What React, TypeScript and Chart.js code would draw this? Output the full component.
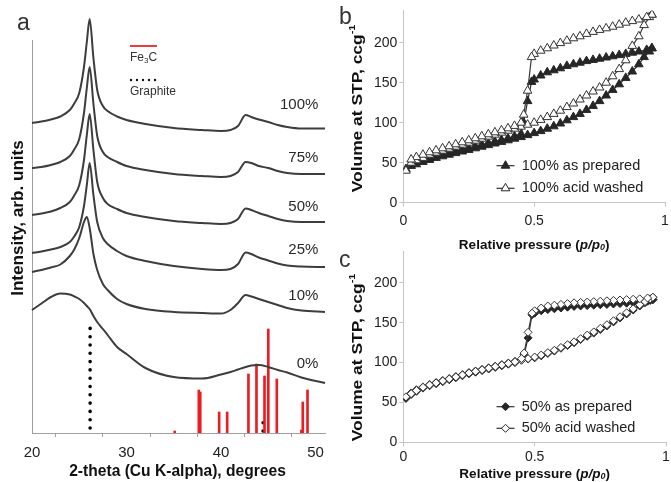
import React, { useEffect, useRef } from 'react';
import { Chart, registerables } from 'chart.js';

Chart.register(...registerables);

const FONT = '"Liberation Sans", Arial, Helvetica, sans-serif';

// ---------- Panel a: XRD patterns ----------
const twoTheta = [20, 21, 22, 23, 24, 24.5, 25, 25.5, 25.8, 26.1, 26.5, 26.9, 27.5, 28, 29, 30, 32, 35, 38, 40, 41, 41.8, 42.6, 43.2, 44, 45, 46, 47, 48.5, 51];
const xrd100 = [310, 311.5, 313.5, 316.5, 323, 330, 340, 366, 391, 414, 375, 343, 327, 322, 316.5, 313, 309, 305, 303, 302, 303, 307, 318, 316, 313.5, 311, 308, 306, 304.5, 304.5];
const xrd75 = [265, 266, 268, 271, 277, 284, 294, 320, 345, 366, 329, 297, 281, 276, 271, 267, 263, 259, 257, 256, 257, 261, 271, 270, 267, 265, 262, 260, 259, 259];
const xrd50 = [218, 219.5, 221.5, 225, 231, 238, 248, 273, 298, 319, 283, 251, 235, 229, 224, 220, 216, 212, 210, 209, 210, 214, 224.5, 223, 220, 217, 214, 212, 211, 211];
const xrd25 = [180, 181.5, 183.5, 186, 191, 197, 206, 227, 248, 270, 238, 211, 195, 189, 182, 177, 172, 167, 164, 163, 164, 169, 180.5, 179, 175.5, 172.5, 169.5, 167.5, 166.5, 166];
const xrd10 = [161, 163, 165.5, 168.5, 177, 184, 195, 211, 216, 205, 179, 163, 149, 143, 134, 129, 124, 121, 120, 119.5, 123, 130, 138, 136.5, 134, 131, 128, 125, 122.5, 121];
const xrd0 = [123, 129.5, 136, 139.5, 138.5, 136.5, 134, 130, 127, 124, 117, 111, 104, 98, 86, 79, 65, 56, 54.5, 58.5, 61, 63.5, 66, 67.5, 68, 66, 63, 60.5, 55.5, 50];
const xrdLabels = ['100%', '75%', '50%', '25%', '10%', '0%'];
const xrdLabelLevels = [328, 275, 226, 183, 137, 69];

const fe3cAngles = [35.1, 37.65, 37.8, 39.8, 40.65, 42.9, 43.75, 44.6, 45.0, 45.9, 48.5, 48.65, 49.15];
const fe3cHeights = [2, 43, 41, 21, 21, 59, 69, 57, 104, 54, 3, 31, 43];
const graphiteAngles = [26.15, 44.45];
const graphiteBottoms = [5, 2];
const graphiteTops = [105, 11];

// ---------- Panels b, c: isotherms ----------
const pAds = [0.01, 0.03, 0.05, 0.075, 0.1, 0.125, 0.15, 0.175, 0.2, 0.225, 0.25, 0.275, 0.3, 0.325, 0.35, 0.375, 0.4, 0.425, 0.45, 0.475, 0.5, 0.525, 0.55, 0.575, 0.6, 0.625, 0.65, 0.675, 0.7, 0.725, 0.75, 0.775, 0.8, 0.825, 0.85, 0.875, 0.9, 0.92, 0.94, 0.95];
const pDes = [0.95, 0.93, 0.9, 0.875, 0.85, 0.825, 0.8, 0.775, 0.75, 0.725, 0.7, 0.675, 0.65, 0.625, 0.6, 0.575, 0.55, 0.525, 0.5, 0.49, 0.475, 0.46, 0.45, 0.425, 0.4, 0.375, 0.35, 0.325, 0.3, 0.275, 0.25, 0.225, 0.2, 0.175, 0.15, 0.125, 0.1, 0.075, 0.05, 0.03];

const b100PreparedAds = [42, 46, 48, 51, 53.5, 56, 58, 60, 62, 64, 66, 68, 70, 72, 74, 76, 78, 80, 82, 84.5, 87, 89.5, 92.5, 95.5, 99, 103, 107, 111, 116, 121, 127, 134, 141, 148, 156, 164, 173, 182, 189, 193];
const b100PreparedDes = [193, 191, 189, 187.5, 186, 184.5, 183, 181.5, 180, 178.5, 177, 175, 173, 171, 168, 165.5, 163, 159, 154, 151, 127, 100, 86, 83, 80.5, 78.5, 76.5, 74.5, 72.5, 70.5, 68.5, 66.5, 64.5, 62.5, 60.5, 58.5, 56, 53.5, 51, 48];
const b100WashedAds = [40, 50, 53, 56, 60, 62.5, 65, 67.5, 70, 72.5, 75, 77.5, 80, 82.5, 85, 87.5, 90, 92.5, 95, 97.5, 100, 103.5, 107, 111, 115, 119.5, 124, 129, 134, 139, 144, 150, 158, 167, 178, 196, 208, 222, 232, 235];
const b100WashedDes = [235, 232, 229, 227, 225, 222.5, 220, 218, 216, 213.5, 211, 208, 205.5, 202.5, 199.5, 196.5, 193, 190, 186, 182, 140, 110, 100, 96, 93, 90.5, 88, 85.5, 83, 80.5, 78, 75.5, 73, 70.5, 68, 65.5, 63, 60, 57, 54];

const c50PreparedAds = [55, 61, 65, 69, 72, 74.5, 77, 79.5, 82, 84.5, 87, 89, 91, 93, 95, 97, 99, 101, 103, 104.5, 106, 108.5, 111.5, 114.5, 118, 121.5, 125, 129, 133, 137, 141.5, 146, 151, 156, 161, 166, 171, 175, 178, 179];
const c50PreparedDes = [179, 177, 175.5, 175, 174.5, 174, 173.5, 173, 172.5, 172, 171.5, 171, 170.5, 169.5, 168.5, 167.5, 166.5, 165, 162, 160, 131, 110, 104, 100, 98, 96, 94, 92, 90, 88, 86, 83.5, 81, 78.5, 76, 73.5, 71, 68, 64, 60];
const c50WashedAds = [57, 62, 66, 69.5, 72.5, 75, 77.5, 80, 82.5, 85, 87.5, 89.5, 91.5, 93.5, 95.5, 97.5, 99.5, 101.5, 103, 105, 107, 109.5, 112.5, 115.5, 119, 122.5, 126, 130, 134.5, 138.5, 143, 147.5, 152.5, 157.5, 162.5, 167.5, 172.5, 176.5, 180, 182];
const c50WashedDes = [182, 181, 180, 179.5, 179, 178.5, 178, 177.5, 177, 176.5, 176, 175.5, 175, 174, 173, 172, 171, 168.5, 165, 162, 138, 112, 105, 101, 99, 97, 95, 93, 91, 89, 87, 84.5, 82, 79.5, 77, 74.5, 72, 69, 65, 61];

const bLegend = ['100% as prepared', '100% acid washed'];
const cLegend = ['50% as prepared', '50% acid washed'];

// ---------- helpers ----------
type Part = { t: string; size: number; bold?: boolean; italic?: boolean; dy?: number };

function drawRich(ctx: CanvasRenderingContext2D, parts: Part[], x: number, y: number, align: string, rot = 0, color = '#1e1e1e', stretch = 1) {
  ctx.save();
  ctx.translate(x, y);
  ctx.rotate(rot);
  ctx.scale(stretch, 1);
  ctx.fillStyle = color;
  ctx.textBaseline = 'middle';
  ctx.textAlign = 'left';
  const fonts = parts.map((p) => `${p.italic ? 'italic ' : ''}${p.bold ? 'bold ' : ''}${p.size}px ${FONT}`);
  let total = 0;
  const widths = parts.map((p, i) => {
    ctx.font = fonts[i];
    const w = ctx.measureText(p.t).width;
    total += w;
    return w;
  });
  let cx = align === 'center' ? -total / 2 : align === 'right' ? -total : 0;
  parts.forEach((p, i) => {
    ctx.font = fonts[i];
    ctx.fillText(p.t, cx, p.dy || 0);
    cx += widths[i];
  });
  ctx.restore();
}

function markerPath(ctx: CanvasRenderingContext2D, style: string, x: number, y: number, r: number) {
  ctx.beginPath();
  if (style === 'triangle') {
    let rad = 0;
    ctx.moveTo(x + Math.sin(rad) * r, y - Math.cos(rad) * r);
    rad += (2 * Math.PI) / 3;
    ctx.lineTo(x + Math.sin(rad) * r, y - Math.cos(rad) * r);
    rad += (2 * Math.PI) / 3;
    ctx.lineTo(x + Math.sin(rad) * r, y - Math.cos(rad) * r);
  } else {
    ctx.moveTo(x, y - r);
    ctx.lineTo(x + r, y);
    ctx.lineTo(x, y + r);
    ctx.lineTo(x - r, y);
  }
  ctx.closePath();
}

// ---------- panel a config ----------
function configA(): any {
  const series = [xrd100, xrd75, xrd50, xrd25, xrd10, xrd0];
  const lineSets = series.map((ys) => ({
    type: 'line',
    data: twoTheta.map((x, i) => ({ x, y: ys[i] })),
    borderColor: '#3d3d3d',
    borderWidth: 2,
    pointRadius: 0,
    cubicInterpolationMode: 'monotone',
    fill: false,
    clip: false,
  }));
  const sticks = {
    type: 'bar',
    data: fe3cAngles.map((x, i) => ({ x, y: fe3cHeights[i] })),
    backgroundColor: '#ec1c24',
    borderWidth: 0,
    barThickness: 2,
    grouped: false,
  };
  const graphite = graphiteAngles.map((x, i) => ({
    type: 'line',
    data: [{ x, y: graphiteBottoms[i] }, { x, y: graphiteTops[i] }],
    borderColor: '#000',
    borderWidth: 3.6,
    borderDash: [0, 8.3],
    borderCapStyle: 'round',
    pointRadius: 0,
    fill: false,
  }));

  const deco = {
    id: 'decoA',
    afterDraw(chart: any) {
      const ctx: CanvasRenderingContext2D = chart.ctx;
      const xs = chart.scales.x;
      const ys = chart.scales.y;
      xrdLabels.forEach((t, i) => {
        drawRich(ctx, [{ t, size: 15 }], xs.getPixelForValue(50.3), ys.getPixelForValue(xrdLabelLevels[i]), 'right', 0, '#2a2a2a');
      });
      ctx.save();
      ctx.strokeStyle = '#ee3b3b';
      ctx.lineWidth = 2;
      ctx.beginPath();
      ctx.moveTo(130, 46);
      ctx.lineTo(157, 46);
      ctx.stroke();
      ctx.strokeStyle = '#111';
      ctx.lineWidth = 2.4;
      ctx.lineCap = 'round';
      ctx.setLineDash([0, 6]);
      ctx.beginPath();
      ctx.moveTo(131, 80);
      ctx.lineTo(156, 80);
      ctx.stroke();
      ctx.restore();
      drawRich(ctx, [{ t: 'Fe', size: 12 }, { t: '3', size: 8, dy: 3 }, { t: 'C', size: 12 }], 130, 58, 'left', 0, '#333');
      drawRich(ctx, [{ t: 'Graphite', size: 12 }], 130, 92, 'left', 0, '#333');
      drawRich(ctx, [{ t: 'Intensity, arb. units', size: 16, bold: true }], 18.5, 218, 'center', -Math.PI / 2, '#111', 1.07);
      drawRich(ctx, [{ t: '2-theta (Cu K-alpha), degrees', size: 15.6, bold: true }], 177.5, 472, 'center', 0, '#111');
      drawRich(ctx, [{ t: 'a', size: 23 }], 17, 24, 'left', 0, '#333');
    },
  };

  return {
    type: 'line',
    data: { datasets: [...lineSets, sticks, ...graphite] },
    options: {
      responsive: false,
      animation: false,
      layout: { padding: { left: 0, right: 10, top: 40, bottom: 0 } },
      plugins: { legend: { display: false }, tooltip: { enabled: false } },
      scales: {
        x: {
          type: 'linear',
          min: 20,
          max: 51,
          offset: false,
          afterFit: (s: any) => { s.height = 49; s.paddingLeft = 0; s.paddingRight = 0; },
          grid: { drawOnChartArea: false, drawTicks: true, tickLength: 4, color: '#a0a0a0' },
          border: { color: '#a0a0a0', width: 1 },
          ticks: {
            stepSize: 5,
            includeBounds: false,
            autoSkip: false,
            maxRotation: 0,
            padding: 7,
            color: '#222',
            font: { family: FONT, size: 15 },
            callback: (v: any) => (Number(v) % 10 === 0 ? String(v) : ''),
          },
        },
        y: {
          type: 'linear',
          min: 0,
          max: 393,
          afterFit: (s: any) => { s.width = 32; },
          grid: { display: false },
          border: { display: true, color: '#a0a0a0', width: 1 },
          ticks: { display: false },
        },
      },
    },
    plugins: [deco],
  };
}

// ---------- isotherm config ----------
function isoConfig(opts: any): any {
  const { prepAds, prepDes, washAds, washDes, style, radius, labels, letter, padTop, xHeight, tickPad, xTitleY, yTitleY, legendY } = opts;
  const toPts = (ads: number[], des: number[]) => [
    ...pAds.map((p, i) => ({ x: p, y: ads[i] })),
    ...pDes.map((p, i) => ({ x: p, y: des[i] })),
  ];
  const datasets = [
    {
      label: labels[0],
      data: toPts(prepAds, prepDes),
      borderColor: '#2a2a2a',
      borderWidth: 1.2,
      pointStyle: style,
      pointRadius: radius,
      pointBackgroundColor: '#262626',
      pointBorderColor: '#262626',
      pointBorderWidth: 1,
      tension: 0,
      fill: false,
      order: 1,
    },
    {
      label: labels[1],
      data: toPts(washAds, washDes),
      borderColor: '#3a3a3a',
      borderWidth: 1.2,
      pointStyle: style,
      pointRadius: radius,
      pointBackgroundColor: '#ffffff',
      pointBorderColor: '#333333',
      pointBorderWidth: 1,
      tension: 0,
      fill: false,
      order: 0,
    },
  ];

  const deco = {
    id: 'decoIso',
    afterDraw(chart: any) {
      const ctx: CanvasRenderingContext2D = chart.ctx;
      const ca = chart.chartArea;
      const cxm = (ca.left + ca.right) / 2;
      drawRich(
        ctx,
        [
          { t: 'Relative pressure (', size: 13.5, bold: true },
          { t: 'p/p', size: 13.5, bold: true, italic: true },
          { t: '0', size: 9, bold: true, italic: true, dy: 3 },
          { t: ')', size: 13.5, bold: true },
        ],
        cxm,
        xTitleY,
        'center',
        0,
        '#111'
      );
      drawRich(
        ctx,
        [
          { t: 'Volume at STP, ccg', size: 14.5, bold: true },
          { t: '-1', size: 9, bold: true, dy: -5 },
        ],
        22,
        yTitleY,
        'center',
        -Math.PI / 2,
        '#111',
        1.2
      );
      labels.forEach((t: string, i: number) => {
        const y = legendY[i];
        const mx = 169.5;
        ctx.save();
        ctx.strokeStyle = '#333';
        ctx.lineWidth = 1.2;
        ctx.beginPath();
        ctx.moveTo(mx - 9, y);
        ctx.lineTo(mx + 9, y);
        ctx.stroke();
        markerPath(ctx, style === 'triangle' ? 'triangle' : 'diamond', mx, y, radius);
        ctx.fillStyle = i === 0 ? '#262626' : '#ffffff';
        ctx.fill();
        ctx.lineWidth = 1;
        ctx.strokeStyle = '#262626';
        ctx.stroke();
        ctx.restore();
        drawRich(ctx, [{ t, size: 14.5 }], 185.7, y, 'left', 0, '#222');
      });
      drawRich(ctx, [{ t: letter, size: 23 }], 3, letter === 'b' ? 18 : 15, 'left', 0, '#333');
    },
  };

  return {
    type: 'line',
    data: { datasets },
    options: {
      responsive: false,
      animation: false,
      layout: { padding: { left: 0, right: 2.7, top: padTop, bottom: 0 } },
      plugins: { legend: { display: false }, tooltip: { enabled: false } },
      scales: {
        x: {
          type: 'linear',
          min: 0,
          max: 1,
          afterFit: (s: any) => { s.height = xHeight; s.paddingLeft = 0; s.paddingRight = 0; },
          grid: { drawOnChartArea: false, drawTicks: true, tickLength: 4, color: '#c4c4c4' },
          border: { color: '#c4c4c4', width: 1 },
          ticks: {
            stepSize: 0.5,
            maxRotation: 0,
            padding: tickPad,
            color: '#222',
            font: { family: FONT, size: 14 },
            callback: (v: any) => String(Number(v)),
          },
        },
        y: {
          type: 'linear',
          min: 0,
          max: 240,
          afterFit: (s: any) => { s.width = 67.3; s.paddingTop = 0; s.paddingBottom = 0; },
          grid: { drawOnChartArea: false, drawTicks: true, tickLength: 4, color: '#c4c4c4' },
          border: { color: '#c4c4c4', width: 1 },
          ticks: { stepSize: 50, includeBounds: false, padding: 2, color: '#222', font: { family: FONT, size: 14 } },
        },
      },
    },
    plugins: [deco],
  };
}

function ChartCanvas({ make, left, top, width, height }: any) {
  const ref = useRef<HTMLCanvasElement>(null);
  useEffect(() => {
    const chart = new Chart(ref.current as HTMLCanvasElement, make());
    return () => chart.destroy();
  }, []);
  return (
    <canvas
      ref={ref}
      width={width}
      height={height}
      style={{ position: 'absolute', left, top, width, height }}
    />
  );
}

export default function App() {
  return (
    <div style={{ position: 'fixed', left: 0, top: 0, width: 671, height: 482, background: '#fff', overflow: 'hidden' }}>
      <ChartCanvas make={configA} left={0} top={0} width={335} height={482} />
      <ChartCanvas
        make={() =>
          isoConfig({
            prepAds: b100PreparedAds,
            prepDes: b100PreparedDes,
            washAds: b100WashedAds,
            washDes: b100WashedDes,
            style: 'triangle',
            radius: 5,
            labels: bLegend,
            letter: 'b',
            padTop: 10.7,
            xHeight: 55.3,
            tickPad: 5.6,
            xTitleY: 245,
            yTitleY: 108.5,
            legendY: [165.7, 188.3],
          })
        }
        left={336}
        top={0}
        width={335}
        height={258}
      />
      <ChartCanvas
        make={() =>
          isoConfig({
            prepAds: c50PreparedAds,
            prepDes: c50PreparedDes,
            washAds: c50WashedAds,
            washDes: c50WashedDes,
            style: 'rectRot',
            radius: 4,
            labels: cLegend,
            letter: 'c',
            padTop: 3.6,
            xHeight: 39.7,
            tickPad: 2.7,
            xTitleY: 228,
            yTitleY: 111.5,
            legendY: [160.7, 182.3],
          })
        }
        left={336}
        top={246}
        width={335}
        height={236}
      />
    </div>
  );
}
